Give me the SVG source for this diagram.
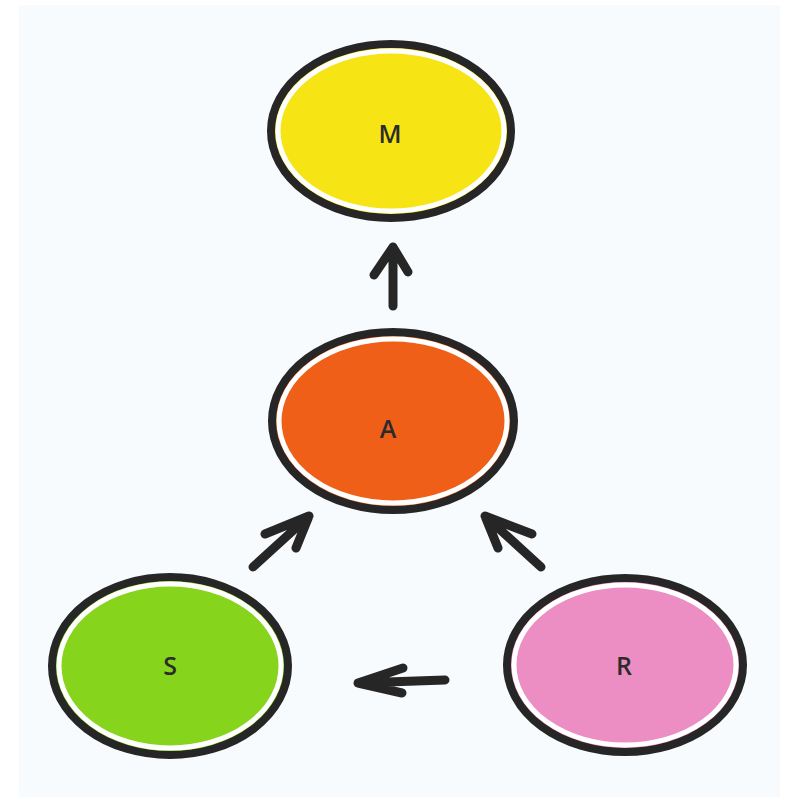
<svg xmlns="http://www.w3.org/2000/svg" width="787" height="801" viewBox="0 0 787 801">
<style>
.ring{stroke:#262626;stroke-width:8;}
.inner{fill:none;stroke:#ffffff;stroke-width:5;}
.lbl{font-family:"Open Sans","DejaVu Sans",sans-serif;font-size:25px;font-weight:600;fill:#2b2b2b;text-anchor:middle;dominant-baseline:central;}
.arr{fill:none;stroke:#262626;stroke-width:9;stroke-linecap:round;stroke-linejoin:round;}
</style>
<rect width="787" height="801" fill="#ffffff"/>
<rect x="19" y="5" width="761" height="792" fill="#f8fbfe"/>
<g id="M">
<ellipse cx="391" cy="131" rx="120" ry="87" class="ring" fill="#f7e414"/>
<ellipse cx="391" cy="131" rx="113" ry="80" class="inner"/>
<text x="390" y="133" class="lbl">M</text>
</g>
<g id="A">
<ellipse cx="393" cy="421" rx="121" ry="89" class="ring" fill="#ef5f17"/>
<ellipse cx="393" cy="421" rx="114" ry="82" class="inner"/>
<text x="388" y="428" class="lbl">A</text>
</g>
<g id="S">
<ellipse cx="170" cy="666" rx="118" ry="89" class="ring" fill="#86d41c"/>
<ellipse cx="170" cy="666" rx="111" ry="82" class="inner"/>
<text x="170" y="665" class="lbl">S</text>
</g>
<g id="R">
<ellipse cx="625" cy="665" rx="118" ry="87" class="ring" fill="#ec8ec4"/>
<ellipse cx="625" cy="665" rx="111" ry="80" class="inner"/>
<text x="624" y="665" class="lbl">R</text>
</g>
<g id="connectors">
<path class="arr" d="M393 306 L393 247 M374 275 L393 247 L408 272"/>
<path class="arr" d="M253 567 L309 516 M265 534 L309 516 L296 548"/>
<path class="arr" d="M541 567 L485 516 M532 534 L485 516 L498 548"/>
<path class="arr" d="M445 680 L358 683 M403 668 L358 683 L402 693"/>
</g>
</svg>
